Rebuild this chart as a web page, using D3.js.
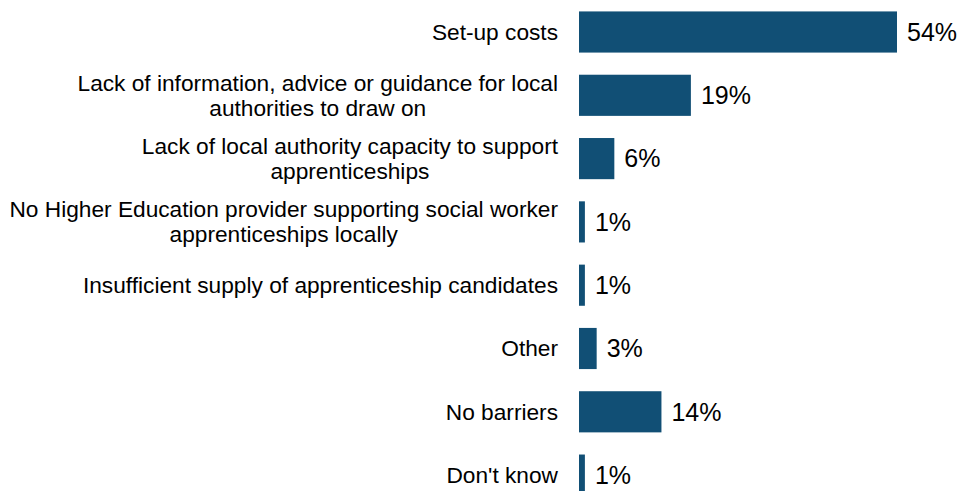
<!DOCTYPE html>
<html><head><meta charset="utf-8">
<script src="https://cdn.jsdelivr.net/npm/d3@7"></script>
<style>body{margin:0;background:#fff;} svg{display:block;}</style>
</head><body>
<svg id="c" width="961" height="491"></svg>
<script>
const categories = [
  ["Set-up costs"],
  ["Lack of information, advice or guidance for local", "authorities to draw on"],
  ["Lack of local authority capacity to support", "apprenticeships"],
  ["No Higher Education provider supporting social worker", "apprenticeships locally"],
  ["Insufficient supply of apprenticeship candidates"],
  ["Other"],
  ["No barriers"],
  ["Don't know"]
];
const values = [54, 19, 6, 1, 1, 3, 14, 1];
const valueLabels = ["54%", "19%", "6%", "1%", "1%", "3%", "14%", "1%"];

const svg = d3.select("#c");
const x = d3.scaleLinear().domain([0, 54]).range([579, 897]);
const y = d3.scaleBand().domain(d3.range(values.length)).range([0.35, 0.35 + 63.3 * 8]).paddingInner(0.35).paddingOuter(0.175);
const color = "#114f75";
const font = "'Liberation Sans', Arial, sans-serif";

svg.selectAll("rect.bar").data(values).join("rect")
  .attr("class", "bar")
  .attr("x", x(0))
  .attr("y", (d, i) => y(i))
  .attr("width", d => x(d) - x(0))
  .attr("height", y.bandwidth())
  .attr("fill", color);

svg.selectAll("text.val").data(values).join("text")
  .attr("class", "val")
  .attr("x", d => x(d) + 10)
  .attr("y", (d, i) => y(i) + y.bandwidth() / 2)
  .attr("dy", "0.35em")
  .attr("font-family", font)
  .attr("font-size", 25)
  .attr("fill", "#000")
  .text((d, i) => valueLabels[i]);

const lh = 25;
const rightEdge = 558;
const g = svg.selectAll("text.cat").data(categories).join("text")
  .attr("class", "cat")
  .attr("text-anchor", "middle")
  .attr("font-family", font)
  .attr("font-size", 22.7)
  .attr("fill", "#000");
g.each(function(lines, i) {
  const cy = y(i) + y.bandwidth() / 2;
  const t = d3.select(this);
  const spans = lines.map((l, j) => t.append("tspan")
      .attr("y", cy + (j - (lines.length - 1) / 2) * lh)
      .attr("dy", "0.35em")
      .text(l));
  const maxW = d3.max(spans, s => s.node().getComputedTextLength());
  spans.forEach(s => s.attr("x", rightEdge - maxW / 2));
});
</script>
</body></html>
